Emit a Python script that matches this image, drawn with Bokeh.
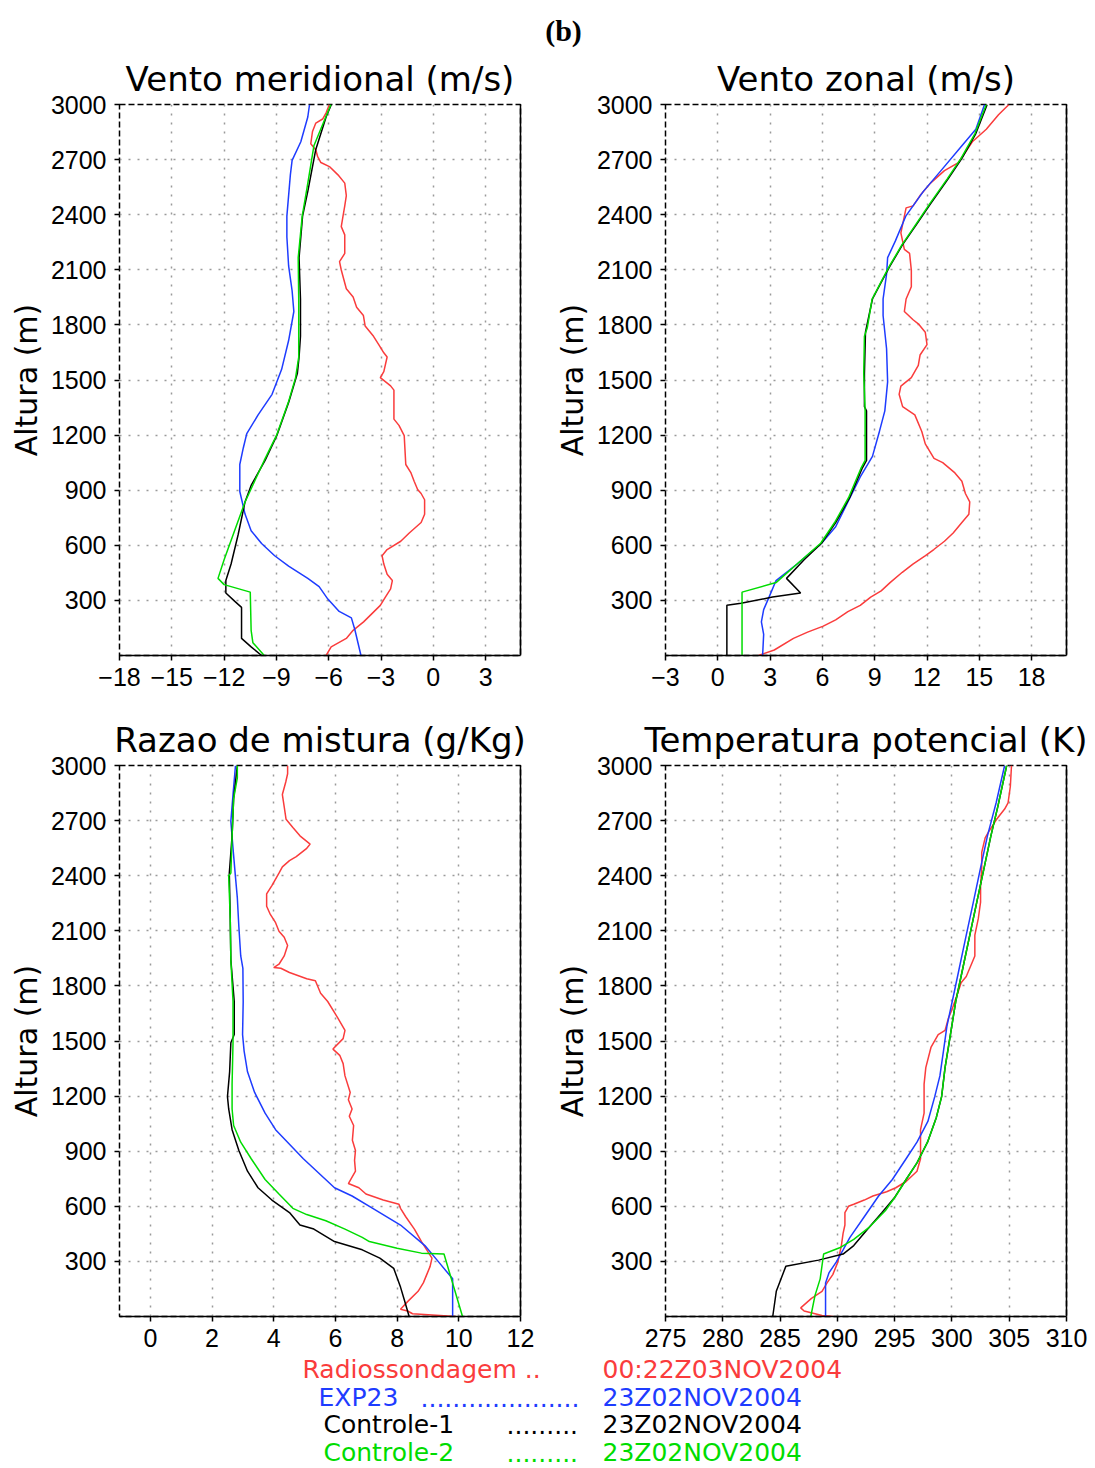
from bokeh.plotting import figure
from bokeh.models import Range1d, FixedTicker, LinearAxis
from bokeh.layouts import column, row
from bokeh.core.properties import value
from bokeh.embed import file_html
from bokeh.resources import INLINE

# ---------------- data ----------------
# Panel 1: Vento meridional (m/s)
merid_obs_h = [0, 47, 93, 137, 183, 228, 273, 318, 363, 408, 442, 498, 543, 577, 622, 667, 724, 769, 848, 882,
               904, 949, 994, 1040, 1197, 1253, 1287, 1355, 1445, 1468, 1513, 1546, 1625, 1648, 1693, 1738, 1794, 1851, 1896, 1952,
               1997, 2099, 2144, 2189, 2290, 2335, 2392, 2448, 2504, 2572, 2617, 2662, 2684, 2718, 2752, 2786, 2853, 2899, 2921, 2955,
               3000]
merid_obs_v = [-6.15, -5.86, -4.99, -4.6, -4.0, -3.52, -3.04, -2.75, -2.45, -2.35, -2.65, -2.84, -2.94, -2.65, -1.87, -1.38, -0.7, -0.5, -0.5, -0.7,
               -0.9, -1.1, -1.28, -1.58, -1.67, -1.97, -2.26, -2.26, -2.26, -2.45, -3.04, -2.84, -2.65, -2.84, -3.13, -3.43, -3.91, -4.01, -4.4, -4.6,
               -4.99, -5.28, -5.38, -5.08, -5.08, -5.28, -5.18, -5.08, -4.99, -5.08, -5.47, -5.96, -6.45, -6.64, -6.74, -7.03, -6.93, -6.74, -6.35, -6.15,
               -5.96]
merid_exp_h = [0, 140, 205, 240, 307, 375, 420, 487, 543, 610, 679, 770, 893, 1040, 1130, 1208, 1310, 1422, 1558, 1715,
               1873, 1986, 2121, 2279, 2392, 2617, 2696, 2797, 2932, 3000]
merid_exp_v = [-4.15, -4.5, -4.7, -5.4, -6.05, -6.55, -7.2, -8.3, -9.1, -9.85, -10.45, -10.8, -11.1, -11.1, -10.9, -10.7, -10.05, -9.25, -8.7, -8.3,
               -8.0, -8.1, -8.3, -8.4, -8.4, -8.2, -8.1, -7.6, -7.2, -7.1]
merid_c1_h = [0, 47, 93, 262, 296, 340, 408, 498, 656, 836, 926, 1062, 1197, 1377, 1535, 1625, 1738, 1941, 2166, 2392,
              2527, 2752, 2932, 3000]
merid_c1_v = [-9.85, -10.45, -11.0, -11.0, -11.4, -11.9, -11.9, -11.6, -11.2, -10.8, -10.45, -9.65, -8.98, -8.3, -7.8, -7.7, -7.62, -7.62, -7.7, -7.5,
              -7.2, -6.75, -6.15, -5.85]
merid_c2_h = [0, 70, 137, 345, 386, 420, 521, 679, 836, 1062, 1197, 1377, 1513, 1625, 1941, 2166, 2392, 2560, 2775, 2932,
              3000]
merid_c2_v = [-9.7, -10.35, -10.45, -10.5, -12.0, -12.35, -12.0, -11.4, -10.8, -9.7, -9.0, -8.32, -7.9, -7.72, -7.72, -7.75, -7.52, -7.22, -6.85, -6.17,
              -5.87]

# Panel 2: Vento zonal (m/s)
zonal_obs_h = [0, 30, 93, 127, 160, 194, 239, 273, 318, 352, 397, 453, 498, 543, 577, 622, 667, 724, 769, 836,
               882, 949, 994, 1050, 1073, 1152, 1220, 1310, 1355, 1422, 1467, 1513, 1580, 1636, 1693, 1760, 1806, 1828, 1873, 1941,
               2008, 2098, 2189, 2211, 2301, 2437, 2448, 2504, 2572, 2640, 2684, 2797, 2865, 2944, 3000]
zonal_obs_v = [2.33, 3.24, 4.34, 5.15, 6.05, 6.76, 7.46, 8.17, 8.77, 9.37, 9.88, 10.58, 11.19, 11.89, 12.39, 13.0, 13.5, 14.0, 14.4, 14.45,
               14.2, 14.0, 13.6, 12.9, 12.4, 11.9, 11.7, 11.3, 10.6, 10.4, 10.5, 11.1, 11.5, 11.6, 12.0, 11.9, 11.5, 11.2, 10.7, 10.8,
               11.1, 11.1, 11.0, 10.7, 10.5, 10.8, 11.2, 11.6, 12.2, 13.0, 13.8, 14.6, 15.4, 16.1, 16.7]
zonal_exp_h = [0, 115, 183, 250, 318, 408, 498, 611, 701, 836, 972, 1084, 1220, 1332, 1490, 1670, 1851, 1941, 2076, 2166,
               2256, 2392, 2527, 2640, 2775, 2865, 3000]
zonal_exp_v = [2.57, 2.63, 2.5, 2.63, 2.94, 3.34, 4.55, 5.95, 6.76, 7.46, 8.17, 8.87, 9.27, 9.58, 9.74, 9.68, 9.48, 9.48, 9.68, 9.74,
               10.18, 10.78, 11.79, 12.8, 14.0, 14.8, 15.3]
zonal_c1_h = [0, 273, 284, 318, 340, 420, 521, 611, 724, 859, 1017, 1062, 1332, 1355, 1535, 1760, 1941, 2031, 2121, 2234,
              2346, 2459, 2594, 2707, 2842, 3000]
zonal_c1_v = [0.52, 0.52, 1.33, 3.14, 4.75, 3.94, 4.95, 5.95, 6.76, 7.56, 8.27, 8.53, 8.53, 8.41, 8.41, 8.47, 8.87, 9.37, 9.88, 10.58,
              11.39, 12.2, 13.2, 14.0, 14.8, 15.45]
zonal_c2_h = [0, 345, 397, 532, 611, 724, 859, 1017, 1062, 1332, 1535, 1738, 1783, 1941, 2031, 2121, 2234, 2346, 2459, 2594,
              2707, 2842, 3000]
zonal_c2_v = [1.39, 1.39, 3.34, 4.95, 5.9, 6.7, 7.5, 8.2, 8.45, 8.45, 8.37, 8.41, 8.57, 8.85, 9.35, 9.85, 10.55, 11.35, 12.15, 13.15,
              13.95, 14.75, 15.4]

# Panel 3: Razao de mistura (g/Kg)
mix_obs_h = [0, 15, 30, 40, 81, 137, 183, 228, 273, 318, 363, 408, 476, 543, 589, 611, 634, 667, 701, 724,
             791, 850, 904, 960, 1040, 1090, 1130, 1180, 1220, 1310, 1377, 1422, 1456, 1513, 1558, 1625, 1715, 1760, 1828, 1839,
             1873, 1896, 1900, 1918, 1963, 2020, 2065, 2098, 2144, 2189, 2234, 2301, 2346, 2414, 2448, 2482, 2504, 2549, 2572, 2617,
             2662, 2707, 2775, 2842, 2910, 2955, 3000]
mix_obs_v = [9.9, 8.5, 8.34, 8.11, 8.34, 8.68, 8.85, 8.96, 9.07, 9.13, 8.96, 8.79, 8.56, 8.28, 8.11, 8.06, 7.55, 6.99, 6.76, 6.42,
             6.65, 6.62, 6.65, 6.55, 6.59, 6.45, 6.54, 6.42, 6.48, 6.31, 6.25, 6.14, 5.92, 6.25, 6.31, 6.08, 5.75, 5.52, 5.35, 5.07,
             4.51, 4.23, 4.0, 4.17, 4.34, 4.45, 4.34, 4.17, 4.06, 3.89, 3.77, 3.77, 3.94, 4.17, 4.28, 4.51, 4.73, 5.07, 5.18, 4.85,
             4.62, 4.4, 4.34, 4.28, 4.39, 4.45, 4.45]
mix_exp_h = [0, 205, 296, 386, 498, 589, 656, 701, 859, 1017, 1107, 1220, 1332, 1445, 1535, 1715, 1896, 1963, 2121, 2279,
             2392, 2549, 2696, 2842, 3000]
mix_exp_v = [9.8, 9.8, 9.35, 8.9, 8.11, 7.21, 6.54, 5.97, 4.96, 4.06, 3.72, 3.38, 3.15, 3.04, 2.99, 3.01, 3.0, 2.93, 2.87, 2.82,
             2.76, 2.68, 2.61, 2.68, 2.76]
mix_c1_h = [0, 93, 160, 262, 318, 363, 408, 476, 498, 566, 634, 701, 791, 904, 1017, 1130, 1197, 1332, 1490, 1535,
            1715, 1941, 2166, 2414, 2617, 2820, 3000]
mix_c1_v = [8.39, 8.23, 8.11, 7.89, 7.44, 6.87, 5.97, 5.3, 4.85, 4.51, 3.94, 3.49, 3.15, 2.87, 2.65, 2.54, 2.5, 2.57, 2.61, 2.72,
            2.72, 2.61, 2.59, 2.56, 2.65, 2.7, 2.82]
mix_c2_h = [0, 340, 345, 372, 408, 431, 476, 521, 555, 589, 667, 746, 859, 949, 1040, 1130, 1265, 1490, 1715, 1941,
            2166, 2400, 2414, 2617, 2820, 2932, 3000]
mix_c2_v = [10.12, 9.52, 8.79, 8.0, 7.1, 6.87, 6.31, 5.69, 5.07, 4.62, 4.17, 3.72, 3.27, 2.93, 2.7, 2.65, 2.65, 2.68, 2.68, 2.61,
            2.59, 2.54, 2.61, 2.65, 2.7, 2.82, 2.82]

# Panel 4: Temperatura potencial (K)
theta_obs_h = [0, 5, 30, 47, 99, 137, 183, 228, 296, 386, 453, 498, 566, 600, 611, 634, 656, 679, 701, 735,
               791, 859, 1017, 1107, 1265, 1355, 1467, 1535, 1558, 1625, 1670, 1760, 1817, 1851, 1918, 1963, 2076, 2166, 2256, 2346,
               2437, 2527, 2606, 2639, 2707, 2763, 2797, 2887, 3000]
theta_obs_v = [289.65, 288.66, 287.1, 286.8, 287.74, 288.66, 289.1, 289.6, 290.04, 290.35, 290.5, 290.66, 290.66, 290.97, 291.43, 292.35, 293.1, 294.3, 295.1, 296.0,
               296.95, 297.26, 297.26, 297.57, 297.57, 297.72, 298.18, 298.8, 299.4, 299.7, 300.0, 300.5, 300.8, 301.25, 301.7, 302.0, 302.0, 302.3, 302.5, 302.5,
               302.6, 302.6, 302.9, 303.2, 303.9, 304.6, 304.9, 305.1, 305.2]
theta_exp_h = [0, 183, 239, 296, 363, 431, 543, 656, 746, 859, 949, 1062, 1197, 1310, 1445, 1580, 1760, 1896, 2076, 2256,
               2437, 2617, 2797, 3000]
theta_exp_v = [288.97, 288.97, 289.28, 289.9, 290.5, 291.1, 292.35, 293.6, 294.8, 296.0, 296.95, 297.9, 298.5, 298.95, 299.26, 299.56, 300.18, 300.64, 301.25, 301.87,
               302.48, 303.1, 303.86, 304.6]
theta_c1_h = [0, 137, 273, 307, 340, 386, 476, 566, 645, 746, 836, 949, 1084, 1197, 1355, 1535, 1715, 1896, 2076, 2256,
              2437, 2617, 2775, 3000]
theta_c1_v = [284.36, 284.67, 285.5, 288.36, 290.5, 291.43, 292.65, 293.9, 294.96, 296.0, 296.95, 297.87, 298.64, 299.1, 299.4, 299.87, 300.33, 300.95, 301.56, 302.17,
              302.79, 303.4, 304.0, 304.78]
theta_c2_h = [0, 115, 205, 340, 374, 420, 487, 577, 656, 746, 836, 949, 1084, 1197, 1355, 1535, 1715, 1896, 2076, 2256,
              2437, 2617, 2775, 3000]
theta_c2_v = [287.68, 288.05, 288.5, 288.8, 290.2, 291.43, 292.8, 294.2, 295.1, 296.0, 296.95, 297.87, 298.64, 299.1, 299.4, 299.87, 300.33, 300.95, 301.56, 302.17,
              302.79, 303.4, 304.0, 304.78]

y_ticks = [300, 600, 900, 1200, 1500, 1800, 2100, 2400, 2700, 3000]
merid_ticks = [-18, -15, -12, -9, -6, -3, 0, 3]
zonal_ticks = [-3, 0, 3, 6, 9, 12, 15, 18]
mix_ticks = [0, 2, 4, 6, 8, 10, 12]
theta_ticks = [275, 280, 285, 290, 295, 300, 305, 310]

titles = ["Vento meridional (m/s)", "Vento zonal (m/s)", "Razao de mistura (g/Kg)", "Temperatura potencial (K)"]
y_label = "Altura (m)"
legend_names = ["Radiossondagem ..", "EXP23", "Controle-1", "Controle-2"]
legend_dots = ["", "....................", ".........", "........."]
legend_dates = ["00:22Z03NOV2004", "23Z02NOV2004", "23Z02NOV2004", "23Z02NOV2004"]

# ---------------- style ----------------
RED, BLUE, BLACK, GREEN = "#fa3c3c", "#1e3cff", "#000000", "#00dc00"
TITLE_FONT = "DejaVu Sans"
TICK_FONT = "Liberation Sans"


def minus_labels(ticks):
    return {t: ("\u2212" + str(abs(t))) if t < 0 else str(t) for t in ticks}


def make_panel(title, xr, xticks, series, width, height, mb_l, mb_r, mb_t, mb_b):
    p = figure(width=width, height=height, x_range=Range1d(*xr), y_range=Range1d(0, 3000),
               output_backend="svg", toolbar_location=None,
               min_border_left=mb_l, min_border_right=mb_r, min_border_top=mb_t, min_border_bottom=mb_b)
    p.background_fill_color = "white"
    p.border_fill_color = "white"
    p.outline_line_color = "black"
    p.outline_line_dash = "6 3"
    p.outline_line_width = 1.5

    p.title.text = title
    p.title.align = "center"
    p.title.text_font = TITLE_FONT
    p.title.text_font_size = "34px"
    p.title.text_font_style = "normal"
    p.title.text_color = "black"
    p.title.standoff = 12

    p.xaxis.ticker = FixedTicker(ticks=xticks)
    p.xaxis.major_label_overrides = minus_labels(xticks)
    p.yaxis.ticker = FixedTicker(ticks=y_ticks)
    p.xgrid.ticker = FixedTicker(ticks=xticks)
    p.ygrid.ticker = FixedTicker(ticks=y_ticks)
    for g in (p.xgrid, p.ygrid):
        g.grid_line_color = "#9a9a9a"
        g.grid_line_dash = "2 7"
        g.grid_line_width = 1.5

    for ax in (p.xaxis, p.yaxis):
        ax.major_tick_out = 5
        ax.major_tick_in = 0
        ax.minor_tick_line_color = None
        ax.major_tick_line_color = "black"
        ax.major_tick_line_width = 1.5
        ax.major_label_text_font = TICK_FONT
        ax.major_label_text_font_size = "25px"
        ax.major_label_text_color = "black"
    p.xaxis.axis_line_color = "black"
    p.xaxis.axis_line_width = 1.5
    p.xaxis.major_label_standoff = 7
    p.yaxis.axis_line_color = None
    p.yaxis.major_label_standoff = 8
    p.yaxis.axis_label = y_label
    p.yaxis.axis_label_text_font = TITLE_FONT
    p.yaxis.axis_label_text_font_size = "30px"
    p.yaxis.axis_label_text_font_style = "normal"
    p.yaxis.axis_label_text_color = "black"
    p.yaxis.axis_label_standoff = 4

    right = LinearAxis(ticker=FixedTicker(ticks=y_ticks), axis_line_color="black", axis_line_width=1.5,
                       major_tick_line_color=None, minor_tick_line_color=None,
                       major_label_text_font_size="1px", major_label_text_color=None,
                       major_label_standoff=0)
    p.add_layout(right, "right")

    for (hs, vs, col) in series:
        p.line(vs, hs, line_color=col, line_width=1.5)
    return p


W_L, W_R = 545, 550
p1 = make_panel(titles[0], (-18, 5), merid_ticks,
                [(merid_obs_h, merid_obs_v, RED), (merid_exp_h, merid_exp_v, BLUE),
                 (merid_c1_h, merid_c1_v, BLACK), (merid_c2_h, merid_c2_v, GREEN)],
                W_L, 657, 119, 25, 56, 50)
p2 = make_panel(titles[1], (-3, 20), zonal_ticks,
                [(zonal_obs_h, zonal_obs_v, RED), (zonal_exp_h, zonal_exp_v, BLUE),
                 (zonal_c1_h, zonal_c1_v, BLACK), (zonal_c2_h, zonal_c2_v, GREEN)],
                W_R, 657, 120, 29, 56, 50)
p3 = make_panel(titles[2], (-1, 12), mix_ticks,
                [(mix_obs_h, mix_obs_v, RED), (mix_exp_h, mix_exp_v, BLUE),
                 (mix_c1_h, mix_c1_v, BLACK), (mix_c2_h, mix_c2_v, GREEN)],
                W_L, 651, 119, 25, 60, 40)
p4 = make_panel(titles[3], (275, 310), theta_ticks,
                [(theta_obs_h, theta_obs_v, RED), (theta_exp_h, theta_exp_v, BLUE),
                 (theta_c1_h, theta_c1_v, BLACK), (theta_c2_h, theta_c2_v, GREEN)],
                W_R, 651, 120, 29, 60, 40)


def blank_fig(h):
    f = figure(width=1095, height=h, x_range=Range1d(0, 1095), y_range=Range1d(h, 0),
               output_backend="svg", toolbar_location=None,
               min_border_left=0, min_border_right=0, min_border_top=0, min_border_bottom=0)
    f.axis.visible = False
    f.grid.visible = False
    f.outline_line_color = None
    return f


header = blank_fig(48)
header.text(x=[563], y=[30], text=["(b)"], text_font=value("Liberation Serif"),
            text_font_style="bold", text_font_size="30px", text_align="center",
            text_baseline="middle", text_color="black")

legend = blank_fig(112)
leg_colors = [RED, BLUE, BLACK, GREEN]
leg_y = [13, 41, 68, 96]
name_x = [302, 318, 323, 323]
dots_x = [0, 420, 506, 506]
date_x = 602
for i in range(4):
    legend.text(x=[name_x[i]], y=[leg_y[i]], text=[legend_names[i]], text_font=value("DejaVu Sans"),
                text_font_size="25px", text_align="left", text_baseline="middle", text_color=leg_colors[i])
    if legend_dots[i]:
        legend.text(x=[dots_x[i]], y=[leg_y[i]], text=[legend_dots[i]], text_font=value("DejaVu Sans"),
                    text_font_size="25px", text_align="left", text_baseline="middle", text_color=leg_colors[i])
    legend.text(x=[date_x], y=[leg_y[i]], text=[legend_dates[i]], text_font=value("DejaVu Sans"),
                text_font_size="25px", text_align="left", text_baseline="middle", text_color=leg_colors[i])

layout = column(header, row(p1, p2), row(p3, p4), legend)
open("out.html", "w").write(file_html(layout, INLINE))
